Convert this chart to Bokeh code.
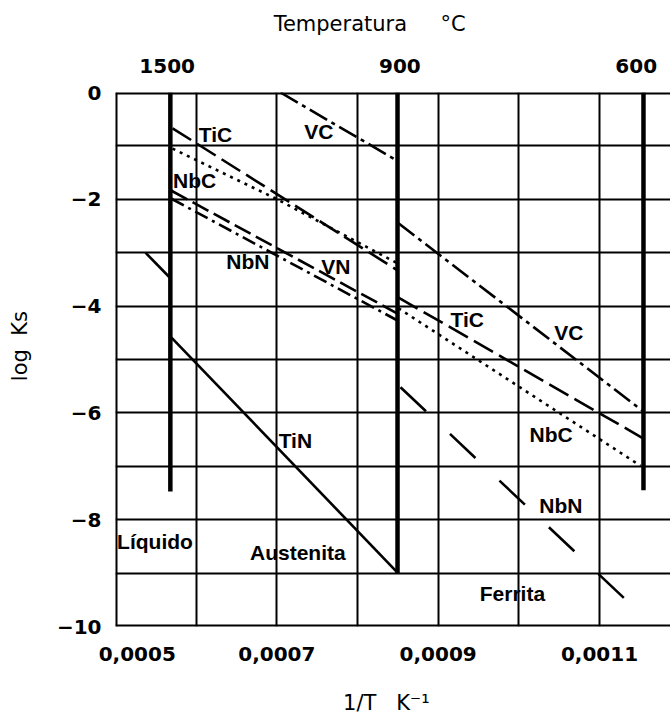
from bokeh.plotting import figure
from bokeh.models import FixedTicker, LinearAxis, Span, Range1d
from bokeh.embed import file_html
from bokeh.resources import INLINE
from bokeh.core.properties import value

# ---------------- data ----------------
# top axis: temperature in °C, placed at 1/T (K^-1)
temps_c = [1500, 900, 600]
# bottom axis tick labels (1/T, K^-1)
bottom_tick_pos = [0.000527, 0.0007, 0.0009, 0.0011]
bottom_tick_labels = ["0,0005", "0,0007", "0,0009", "0,0011"]
# left axis
y_tick_pos = [0, -2, -4, -6, -8, -10]
y_tick_labels = ["0", "\u22122", "\u22124", "\u22126", "\u22128", "\u221210"]
# grid
grid_x = [0.0005, 0.0006, 0.0007, 0.0008, 0.0009, 0.0010, 0.0011, 0.0012]
grid_y = [0, -1, -2, -3, -4, -5, -6, -7, -8, -9, -10]

# phase boundaries (liquid/austenite, austenite/ferrite, ferrite limit)
phase_x = [0.000568, 0.0008496, 0.0011545]
phase_y_top = [0.0, 0.0, 0.0]
phase_y_bottom = [-7.47, -9.0, -7.45]

# log Ks segments  (x = 1/T, y = log Ks)
TiN_liq_x = [0.0005372, 0.0005669]
TiN_liq_y = [-3.0, -3.46]
TiN_aus_x = [0.0005694, 0.0008496]
TiN_aus_y = [-4.59, -8.99]
TiC_aus_x = [0.0005707, 0.0008496]
TiC_aus_y = [-0.67, -3.33]
TiC_fer_x = [0.0008508, 0.0011545]
TiC_fer_y = [-3.84, -6.48]
NbC_aus_x = [0.0005707, 0.0007004, 0.0008496]
NbC_aus_y = [-1.05, -2.00, -3.20]
NbC_fer_x = [0.0008508, 0.0011508]
NbC_fer_y = [-4.04, -6.99]
NbN_aus_x = [0.0005694, 0.0008496]
NbN_aus_y = [-1.84, -4.14]
NbN_fer_x = [0.0008533, 0.0011347]
NbN_fer_y = [-5.52, -9.53]
VN_aus_x = [0.0005694, 0.0008496]
VN_aus_y = [-1.99, -4.27]
VC_aus_x = [0.0007045, 0.0008483]
VC_aus_y = [0.0, -1.27]
VC_fer_x = [0.0008508, 0.0011533]
VC_fer_y = [-2.45, -5.96]

# curve / region labels
label_text = ["TiC", "NbC", "VC", "NbN", "VN", "TiC", "VC", "NbC", "NbN",
              "TiN", "L\u00edquido", "Austenita", "Ferrita"]
label_x = [0.000624, 0.000598, 0.000752, 0.000664, 0.000773, 0.000936,
           0.001062, 0.001040, 0.001052, 0.000723, 0.000549, 0.000726, 0.000992]
label_y = [-0.79, -1.65, -0.73, -3.16, -3.26, -4.25,
           -4.49, -6.40, -7.73, -6.52, -8.41, -8.61, -9.38]

# axis titles (non-breaking spaces keep the gaps of the original)
NB = "\u00a0"
top_title = "Temperatura" + NB * 5 + "\u00b0C" + NB * 7
bottom_title = "1/T" + NB * 3 + "K\u207b\u00b9" + NB * 2
left_title = NB * 4 + "log" + NB * 2 + "Ks"

# ---------------- figure ----------------
W, H = 670, 726
p = figure(width=W, height=H, output_backend="svg", toolbar_location=None,
           x_range=Range1d(0.0005, 0.001188), y_range=Range1d(-10, 0),
           min_border_left=115, min_border_right=0,
           min_border_top=92, min_border_bottom=100,
           x_axis_location=None, y_axis_location=None)
p.outline_line_color = None
p.background_fill_color = "white"
p.border_fill_color = "white"

# grid
p.xgrid.ticker = FixedTicker(ticks=grid_x)
p.ygrid.ticker = FixedTicker(ticks=grid_y)
for g in (p.xgrid, p.ygrid):
    g.grid_line_color = "black"
    g.grid_line_width = 2
    g.grid_line_alpha = 1.0

# axes
def style_axis(ax, standoff, title, title_standoff):
    ax.axis_line_color = None
    ax.major_tick_line_color = None
    ax.minor_tick_line_color = None
    ax.major_tick_in = 0
    ax.major_tick_out = 0
    ax.major_label_standoff = standoff
    ax.major_label_text_font = "DejaVu Sans"
    ax.major_label_text_font_style = "bold"
    ax.major_label_text_font_size = "20px"
    ax.major_label_text_color = "black"
    ax.axis_label = title
    ax.axis_label_text_font = "DejaVu Sans"
    ax.axis_label_text_font_style = "normal"
    ax.axis_label_text_font_size = "21px"
    ax.axis_label_text_color = "black"
    ax.axis_label_standoff = title_standoff

bottom = LinearAxis(ticker=FixedTicker(ticks=bottom_tick_pos),
                    major_label_overrides=dict(zip(bottom_tick_pos, bottom_tick_labels)))
style_axis(bottom, 20, bottom_title, 27)
p.add_layout(bottom, "below")

top_pos = [1.0 / (t + 273.0) for t in temps_c]
top = LinearAxis(ticker=FixedTicker(ticks=top_pos),
                 major_label_overrides=dict(zip(top_pos, [str(t) for t in temps_c])))
style_axis(top, 20, top_title, 20)
p.add_layout(top, "above")

left = LinearAxis(ticker=FixedTicker(ticks=y_tick_pos),
                  major_label_overrides=dict(zip(y_tick_pos, y_tick_labels)))
style_axis(left, 14, left_title, 22)
p.add_layout(left, "left")

# frame borders
for loc, dim in ((0, "width"), (-10, "width"), (0.0005, "height")):
    p.add_layout(Span(location=loc, dimension=dim, line_color="black", line_width=4))

# phase boundary lines
p.segment(x0=phase_x, y0=phase_y_top, x1=phase_x, y1=phase_y_bottom,
          line_color="black", line_width=4.5)

# solubility lines
LW = 2.6
p.line(TiN_liq_x, TiN_liq_y, line_color="black", line_width=LW)
p.line(TiN_aus_x, TiN_aus_y, line_color="black", line_width=LW)
p.line(TiC_aus_x, TiC_aus_y, line_color="black", line_width=LW, line_dash="22 7")
p.line(TiC_fer_x, TiC_fer_y, line_color="black", line_width=LW, line_dash="22 7")
p.line(NbC_aus_x, NbC_aus_y, line_color="black", line_width=LW, line_dash="3 5")
p.line(NbC_fer_x, NbC_fer_y, line_color="black", line_width=LW, line_dash="3 5")
p.line(NbN_aus_x, NbN_aus_y, line_color="black", line_width=LW, line_dash="18 6")
p.line(NbN_fer_x, NbN_fer_y, line_color="black", line_width=LW, line_dash="35 33")
p.line(VN_aus_x, VN_aus_y, line_color="black", line_width=LW, line_dash="14 5 3 5")
p.line(VC_aus_x, VC_aus_y, line_color="black", line_width=LW, line_dash="20 5 4 5")
p.line(VC_fer_x, VC_fer_y, line_color="black", line_width=LW, line_dash="20 5 4 5")

# labels in the plot
p.text(x=label_x, y=label_y, text=label_text, text_font=value("Liberation Sans"),
       text_font_style="bold", text_font_size="21px", text_color="black",
       text_align="center", text_baseline="middle")

open("out.html", "w").write(file_html(p, INLINE))
